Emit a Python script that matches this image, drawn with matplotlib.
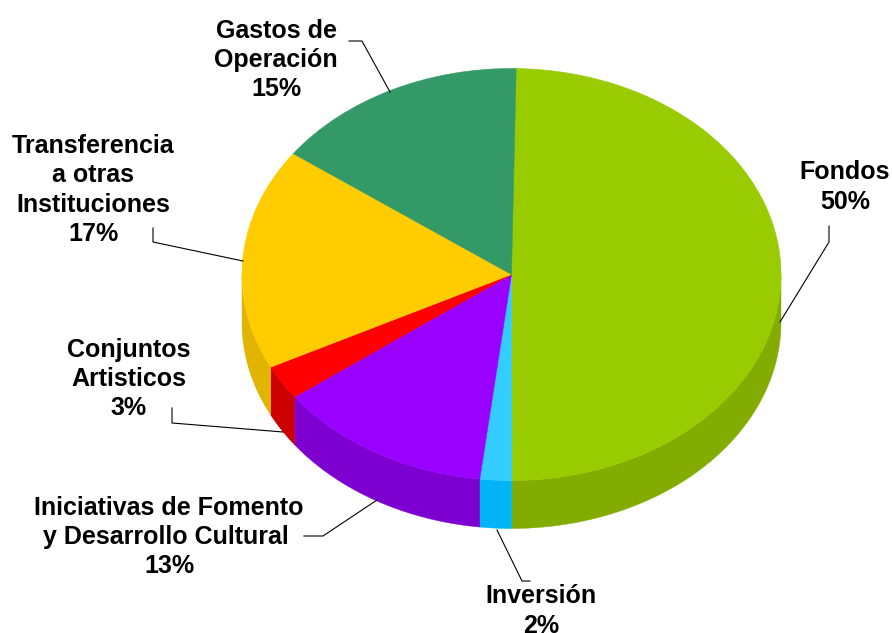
import matplotlib
matplotlib.use("Agg")
import matplotlib.pyplot as plt
import numpy as np

labels = ['Fondos\n50%', 'Inversión\n2%', 'Iniciativas de Fomento\ny Desarrollo Cultural \n13%',
          'Conjuntos\nArtisticos\n3%', 'Transferencia\na otras\nInstituciones\n17%', 'Gastos de\nOperación\n15%']
values = [49.7, 1.9, 13.0, 2.7, 17.4, 15.3]
top_colors = ['#99CC00', '#33CCFF', '#9900FF', '#FF0000', '#FFCC00', '#339966']
side_colors = ['#82AD00', '#00B4F5', '#7D00D0', '#CC0000', '#E0B400', '#2B8256']

W, H = 892, 633
CX, CY, RX, RY, DEPTH = 511.5, 274.5, 269.5, 206, 48
START = 89

plt.rcParams['font.family'] = ['Liberation Sans', 'DejaVu Sans']

fig = plt.figure(figsize=(W / 100, H / 100), dpi=100)
ax = fig.add_axes([0, 0, 1, 1])
wedges, _ = ax.pie(values, colors=top_colors, startangle=START, counterclock=False, radius=1,
                   wedgeprops={'zorder': 3})
for w, c in zip(wedges, top_colors):
    w.set_edgecolor(c)
    w.set_linewidth(0.4)
# squash the pie into an ellipse, axes run in units of the radius
ax.set_aspect('auto')
ax.set_xlim(-CX / RX, (W - CX) / RX)
ax.set_ylim((CY - H) / RY, CY / RY)

# outer wall of the disc, only the part facing down is visible
d = DEPTH / RY
edges = START - np.cumsum([0] + values) * 3.6
for i, c in enumerate(side_colors):
    t = np.radians(np.linspace(edges[i], edges[i + 1], 300))
    t = t[np.sin(t) <= 0]
    if len(t) == 0:
        continue
    x = np.cos(t)
    y = np.sin(t)
    ax.fill(np.r_[x, x[::-1]], np.r_[y, y[::-1] - d], color=c, lw=0.3, zorder=2)


def px(x, y):
    return x / W, 1 - y / H


# label centres and leader lines in picture pixels
label_pos = [(845, 187), (541, 611), (169, 537), (129, 379), (93, 190), (276, 60)]
leaders = [
    [(829, 226), (829, 242), (780, 322)],
    [(497, 530), (522, 581), (530, 581)],
    [(304, 536), (323, 536), (377, 500)],
    [(172, 408), (172, 423), (283, 432)],
    [(153, 228), (153, 242), (243, 261)],
    [(349, 41), (362, 41), (390, 92)],
]

for lab, pos in zip(labels, label_pos):
    fig.text(*px(*pos), lab, ha='center', va='center', fontsize=18, fontweight='bold',
             linespacing=1.27, color='black')

for pts in leaders:
    xs, ys = zip(*[px(*p) for p in pts])
    fig.add_artist(plt.Line2D(xs, ys, color='black', lw=0.8, transform=fig.transFigure))

fig.savefig('out.png', dpi=100)
